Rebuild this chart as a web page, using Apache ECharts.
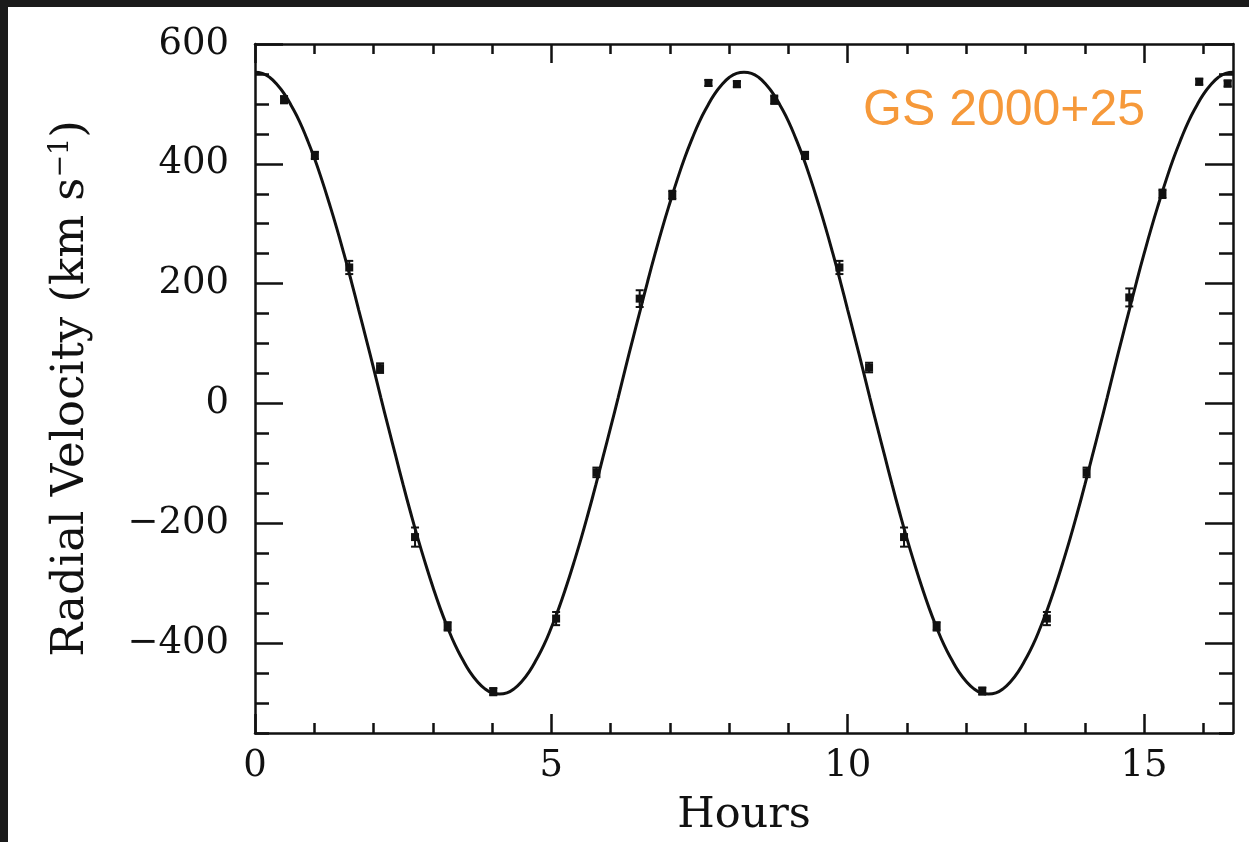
<!DOCTYPE html>
<html>
<head>
<meta charset="utf-8">
<title>GS 2000+25 radial velocity</title>
<script src="https://cdn.jsdelivr.net/npm/echarts@6/dist/echarts.min.js"></script>
<style>
html, body { margin: 0; padding: 0; width: 1249px; height: 842px; overflow: hidden; background: #1b1b1b; }
#chart { position: absolute; left: 8px; top: 7px; width: 1241px; height: 835px; background: #fff; }
</style>
</head>
<body>
<div id="chart"></div>
<script>
// fitted curve, every 0.125 h
const curveHours = [0, 0.125, 0.25, 0.375, 0.5, 0.625, 0.75, 0.875, 1, 1.125, 1.25, 1.375, 1.5, 1.625, 1.75, 1.875,
  2, 2.125, 2.25, 2.375, 2.5, 2.625, 2.75, 2.875, 3, 3.125, 3.25, 3.375, 3.5, 3.625, 3.75, 3.875,
  4, 4.125, 4.25, 4.375, 4.5, 4.625, 4.75, 4.875, 5, 5.125, 5.25, 5.375, 5.5, 5.625, 5.75, 5.875,
  6, 6.125, 6.25, 6.375, 6.5, 6.625, 6.75, 6.875, 7, 7.125, 7.25, 7.375, 7.5, 7.625, 7.75, 7.875,
  8, 8.125, 8.25, 8.375, 8.5, 8.625, 8.75, 8.875, 9, 9.125, 9.25, 9.375, 9.5, 9.625, 9.75, 9.875,
  10, 10.125, 10.25, 10.375, 10.5, 10.625, 10.75, 10.875, 11, 11.125, 11.25, 11.375, 11.5, 11.625, 11.75, 11.875,
  12, 12.125, 12.25, 12.375, 12.5, 12.625, 12.75, 12.875, 13, 13.125, 13.25, 13.375, 13.5, 13.625, 13.75, 13.875,
  14, 14.125, 14.25, 14.375, 14.5, 14.625, 14.75, 14.875, 15, 15.125, 15.25, 15.375, 15.5, 15.625, 15.75, 15.875,
  16, 16.125, 16.25, 16.375, 16.5];
const curveVel = [553, 551, 544, 532, 516, 495, 471, 442, 410, 374, 335, 294, 250, 204, 156, 108,
  59, 9, -40, -88, -136, -182, -226, -267, -306, -342, -374, -403, -427, -448, -464, -476,
  -483, -485, -483, -476, -464, -448, -427, -403, -374, -342, -306, -267, -226, -182, -136, -88,
  -40, 9, 59, 108, 156, 204, 250, 294, 335, 374, 410, 442, 471, 495, 516, 532,
  544, 551, 553, 551, 544, 532, 516, 495, 471, 442, 410, 374, 335, 294, 250, 204,
  156, 108, 59, 9, -40, -88, -136, -182, -226, -267, -306, -342, -374, -403, -427, -448,
  -464, -476, -483, -485, -483, -476, -464, -448, -427, -403, -374, -342, -306, -267, -226, -182,
  -136, -88, -40, 9, 59, 108, 156, 204, 250, 294, 335, 374, 410, 442, 471, 495,
  516, 532, 544, 551, 553];

// measured velocities with error bars
const obsHours = [0.49, 1.01, 1.59, 2.11, 2.70, 3.25, 4.02, 5.08, 5.76, 6.49, 7.04, 7.65, 8.13,
  8.76, 9.28, 9.86, 10.36, 10.95, 11.50, 12.27, 13.36, 14.03, 14.75, 15.31, 15.93, 16.41];
const obsVel = [507, 414, 227, 59, -223, -372, -481, -359, -115, 175, 348, 535, 533,
  507, 414, 227, 60, -223, -372, -480, -359, -115, 177, 350, 537, 534];
const obsErr = [6, 6, 11, 8, 16, 7, 6, 11, 8, 14, 7, 5, 5,
  7, 6, 11, 8, 16, 7, 6, 11, 8, 15, 7, 5, 5];

const xMajor = [0, 5, 10, 15];
const xMinor = [1, 2, 3, 4, 6, 7, 8, 9, 11, 12, 13, 14, 16];
const yMajor = [-400, -200, 0, 200, 400, 600];
const yMinor = [-550, -500, -450, -350, -300, -250, -150, -100, -50, 50, 100, 150, 250, 300, 350, 450, 500, 550];

const ink = "#111";
const serif = "DejaVu Serif";

function axisX(pos, ticks, len, withLine, withLabel) {
  return {
    type: "value",
    position: pos,
    min: 0,
    max: 16.5,
    axisLine: { show: withLine, onZero: false, lineStyle: { color: ink, width: 2.5 } },
    axisTick: { show: true, inside: true, length: len, customValues: ticks, lineStyle: { color: ink, width: 2.5 } },
    axisLabel: withLabel
      ? { show: true, customValues: ticks, margin: 15, color: ink, fontFamily: serif, fontSize: 37 }
      : { show: false },
    splitLine: { show: false }
  };
}

function axisY(pos, ticks, len, withLine, withLabel) {
  return {
    type: "value",
    position: pos,
    min: -550,
    max: 600,
    axisLine: { show: withLine, onZero: false, lineStyle: { color: ink, width: 2.5 } },
    axisTick: { show: true, inside: true, length: len, customValues: ticks, lineStyle: { color: ink, width: 2.5 } },
    axisLabel: withLabel
      ? {
          show: true, customValues: ticks, margin: 26, color: ink, fontFamily: serif, fontSize: 37,
          formatter: function (v) { return String(v).replace("-", "\u2212"); }
        }
      : { show: false },
    splitLine: { show: false }
  };
}

const xAxes = [
  axisX("bottom", xMajor, 19, true, true),
  axisX("bottom", xMinor, 10, false, false),
  axisX("top", xMajor, 19, true, false),
  axisX("top", xMinor, 10, false, false)
];
xAxes[0].name = "Hours";
xAxes[0].nameLocation = "middle";
xAxes[0].nameGap = 61;
xAxes[0].nameTextStyle = { color: ink, fontFamily: serif, fontSize: 43 };

const yAxes = [
  axisY("left", yMajor, 28, true, true),
  axisY("left", yMinor, 14, false, false),
  axisY("right", yMajor, 28, true, false),
  axisY("right", yMinor, 14, false, false)
];
yAxes[0].name = "Radial Velocity (km s{sup|\u22121})";
yAxes[0].nameLocation = "middle";
yAxes[0].nameGap = 160;
yAxes[0].nameTextStyle = {
  color: ink, fontFamily: serif, fontSize: 45, lineHeight: 48,
  rich: { sup: { color: ink, fontFamily: serif, fontSize: 27, lineHeight: 27, verticalAlign: "top" } }
};

const chart = echarts.init(document.getElementById("chart"));
chart.setOption({
  animation: false,
  backgroundColor: "#fff",
  title: {
    text: "GS 2000+25",
    left: 855,
    top: 79,
    padding: 0,
    textStyle: { color: "#f6993a", fontFamily: "Liberation Sans", fontSize: 50, fontWeight: "normal" }
  },
  grid: { left: 247, right: 16, top: 37, bottom: 109, containLabel: false, outerBoundsMode: "none" },
  xAxis: xAxes,
  yAxis: yAxes,
  series: [
    {
      type: "line",
      xAxisIndex: 0,
      yAxisIndex: 0,
      smooth: true,
      showSymbol: false,
      symbol: "none",
      lineStyle: { color: ink, width: 3 },
      data: curveHours.map((h, i) => [h, curveVel[i]])
    },
    {
      type: "custom",
      xAxisIndex: 0,
      yAxisIndex: 0,
      clip: false,
      data: obsHours.map((h, i) => [h, obsVel[i], obsErr[i]]),
      renderItem: function (params, api) {
        const c = api.coord([api.value(0), api.value(1)]);
        const hi = api.coord([api.value(0), api.value(1) + api.value(2)]);
        const lo = api.coord([api.value(0), api.value(1) - api.value(2)]);
        const s = { stroke: ink, lineWidth: 2 };
        return {
          type: "group",
          children: [
            { type: "line", shape: { x1: c[0], y1: hi[1], x2: c[0], y2: lo[1] }, style: s },
            { type: "line", shape: { x1: c[0] - 4, y1: hi[1], x2: c[0] + 4, y2: hi[1] }, style: s },
            { type: "line", shape: { x1: c[0] - 4, y1: lo[1], x2: c[0] + 4, y2: lo[1] }, style: s },
            { type: "rect", shape: { x: c[0] - 4, y: c[1] - 4, width: 8, height: 8 }, style: { fill: ink } }
          ]
        };
      }
    }
  ]
});
</script>
</body>
</html>
